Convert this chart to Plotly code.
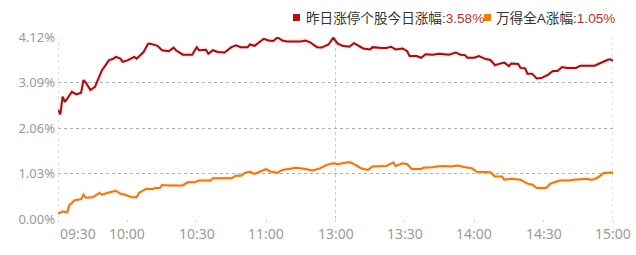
import plotly.graph_objects as go

# ---- data (minute index from 09:30, lunch break removed; 13:00 = 120) ----
RED_T = [0, 1, 2, 3, 6, 8, 10, 11, 12, 14, 16, 19, 20, 22, 24, 25, 27, 28, 30, 33, 34, 37, 39, 40,
         43, 45, 48, 50, 51, 54, 58, 60, 61, 64, 65, 67, 69, 72, 75, 77, 79, 82, 83, 85, 89, 91,
         93, 95, 97, 99, 105, 107, 109, 112, 114, 117, 119, 120, 121, 123, 126, 128, 130, 132,
         135, 136, 140, 142, 144, 146, 149, 151, 152, 155, 157, 159, 162, 165, 169, 172, 174,
         176, 177, 180, 182, 185, 187, 189, 190, 193, 195, 196, 199, 200, 202, 203, 205, 207,
         209, 212, 214, 216, 218, 220, 224, 226, 232, 234, 238, 239, 240]
RED_V = [2.47, 2.37, 2.77, 2.65, 2.88, 2.82, 2.86, 3.14, 3.09, 2.92, 2.99, 3.37, 3.44, 3.59, 3.63,
         3.67, 3.63, 3.56, 3.59, 3.67, 3.63, 3.78, 3.97, 3.97, 3.92, 3.82, 3.80, 3.88, 3.82, 3.72,
         3.72, 3.89, 3.82, 3.83, 3.74, 3.82, 3.78, 3.77, 3.89, 3.93, 3.89, 3.89, 3.95, 3.92, 4.08,
         4.04, 4.03, 4.11, 4.04, 4.02, 4.02, 4.04, 4.00, 3.89, 3.88, 3.95, 4.10, 4.04, 3.97, 3.92,
         3.90, 3.98, 3.92, 3.86, 3.84, 3.89, 3.87, 3.87, 3.90, 3.84, 3.86, 3.80, 3.69, 3.69, 3.65,
         3.73, 3.72, 3.74, 3.72, 3.77, 3.72, 3.71, 3.65, 3.65, 3.69, 3.62, 3.60, 3.48, 3.50, 3.54,
         3.46, 3.52, 3.51, 3.42, 3.41, 3.29, 3.29, 3.18, 3.19, 3.27, 3.35, 3.35, 3.44, 3.42, 3.42,
         3.47, 3.47, 3.52, 3.61, 3.61, 3.58]

ORG_T = [0, 2, 4, 5, 6, 7, 10, 11, 12, 15, 18, 19, 22, 25, 27, 29, 32, 34, 35, 38, 41, 42, 44, 45,
         48, 54, 56, 59, 61, 66, 67, 75, 77, 79, 81, 83, 85, 87, 90, 92, 95, 97, 100, 103, 107,
         110, 113, 116, 119, 121, 123, 126, 128, 131, 134, 136, 142, 145, 146, 149, 151, 153,
         157, 158, 162, 164, 167, 170, 173, 176, 179, 181, 187, 189, 192, 193, 196, 200, 203,
         205, 207, 211, 213, 215, 217, 221, 223, 229, 230, 232, 234, 236, 240]
ORG_V = [0.12, 0.17, 0.15, 0.32, 0.36, 0.42, 0.45, 0.55, 0.48, 0.49, 0.59, 0.55, 0.60, 0.64, 0.57,
         0.55, 0.49, 0.49, 0.59, 0.68, 0.68, 0.70, 0.70, 0.77, 0.76, 0.76, 0.83, 0.83, 0.87, 0.87,
         0.92, 0.92, 0.98, 0.98, 1.05, 1.07, 1.02, 1.07, 1.13, 1.07, 1.05, 1.11, 1.13, 1.16, 1.13,
         1.10, 1.14, 1.22, 1.26, 1.24, 1.26, 1.29, 1.24, 1.15, 1.11, 1.19, 1.20, 1.28, 1.20, 1.26,
         1.24, 1.13, 1.13, 1.16, 1.17, 1.19, 1.20, 1.19, 1.21, 1.17, 1.15, 1.07, 1.06, 0.96, 0.96,
         0.89, 0.91, 0.89, 0.80, 0.78, 0.70, 0.70, 0.80, 0.83, 0.87, 0.87, 0.89, 0.91, 0.89, 0.90,
         0.96, 1.04, 1.05]

TIME_POS = [0, 30, 60, 90, 120, 150, 180, 210, 240]
TIME_LABELS = ["09:30", "10:00", "10:30", "11:00", "13:00", "13:30", "14:00", "14:30", "15:00"]
Y_TICKS = [0.00, 1.03, 2.06, 3.09, 4.12]
Y_LABELS = ["0.00%", "1.03%", "2.06%", "3.09%", "4.12%"]

NAME_RED = "昨日涨停个股今日涨幅"
NAME_ORG = "万得全A涨幅"
LAST_RED = "3.58%"
LAST_ORG = "1.05%"

RED = "#9e0f12"
ORG = "#e07a1c"

fig = go.Figure()
# soft halo under each line
fig.add_trace(go.Scatter(x=ORG_T, y=ORG_V, mode="lines", line=dict(color="rgba(250,200,120,0.25)", width=5),
                         hoverinfo="skip", showlegend=False))
fig.add_trace(go.Scatter(x=RED_T, y=RED_V, mode="lines", line=dict(color="rgba(230,150,150,0.2)", width=5),
                         hoverinfo="skip", showlegend=False))
fig.add_trace(go.Scatter(x=ORG_T, y=ORG_V, mode="lines", line=dict(color=ORG, width=2), name=NAME_ORG,
                         showlegend=False))
fig.add_trace(go.Scatter(x=RED_T, y=RED_V, mode="lines", line=dict(color=RED, width=2), name=NAME_RED,
                         showlegend=False))

# vertical dotted lines at open, noon and close
for xv in [0, 120, 240]:
    fig.add_shape(type="line", xref="x", yref="paper", x0=xv, x1=xv, y0=0, y1=1,
                  line=dict(color="#c8c8c8", width=1, dash="dot"), layer="below")

annotations = []
for i, (p, lab) in enumerate(zip(TIME_POS, TIME_LABELS)):
    annotations.append(dict(x=p, y=0, xref="x", yref="paper", text=lab, showarrow=False,
                            xanchor="left" if i == 0 else "center", yanchor="top", yshift=-3,
                            font=dict(family="Noto Sans, sans-serif", size=14, color="#9a9a9a")))

legend_font = dict(family="Liberation Sans, Noto Sans CJK SC, sans-serif", size=13.6, color="#333333")
W, H = 636, 255
L, R, T, B = 58, 23, 37, 36
PW, PH = W - L - R, H - T - B

def px(x):
    return (x - L) / PW

def py(y):
    return (H - B - y) / PH

annotations.append(dict(x=px(304), y=py(18), xref="paper", yref="paper", showarrow=False,
                        xanchor="left", yanchor="middle",
                        text=f'{NAME_RED}:<span style="color:#c0302a">{LAST_RED}</span>',
                        font=legend_font))
annotations.append(dict(x=px(494), y=py(18), xref="paper", yref="paper", showarrow=False,
                        xanchor="left", yanchor="middle",
                        text=f'{NAME_ORG}:<span style="color:#c0302a">{LAST_ORG}</span>',
                        font=legend_font))

for x0, col in [(293, "#c00a0a"), (484, "#f07d0a")]:
    fig.add_shape(type="rect", xref="paper", yref="paper",
                  x0=px(x0), x1=px(x0 + 7), y0=py(21), y1=py(14),
                  line=dict(width=0), fillcolor=col)

fig.update_layout(
    width=W, height=H, margin=dict(l=L, r=R, t=T, b=B),
    paper_bgcolor="white", plot_bgcolor="white",
    annotations=annotations,
    xaxis=dict(range=[0, 240], showgrid=False, zeroline=False, showline=False,
               tickvals=TIME_POS, showticklabels=False, ticks="outside", ticklen=2,
               tickcolor="#d0d0d0"),
    yaxis=dict(range=[0, 4.12], tickvals=Y_TICKS, ticktext=Y_LABELS, showgrid=True,
               gridcolor="#b0b0b0", griddash="dot", gridwidth=1, zeroline=False, showline=False,
               ticks="", ticklabelstandoff=2,
               tickfont=dict(family="Noto Sans, sans-serif", size=13, color="#9a9a9a")),
    showlegend=False,
)

fig.write_html("out.html")
